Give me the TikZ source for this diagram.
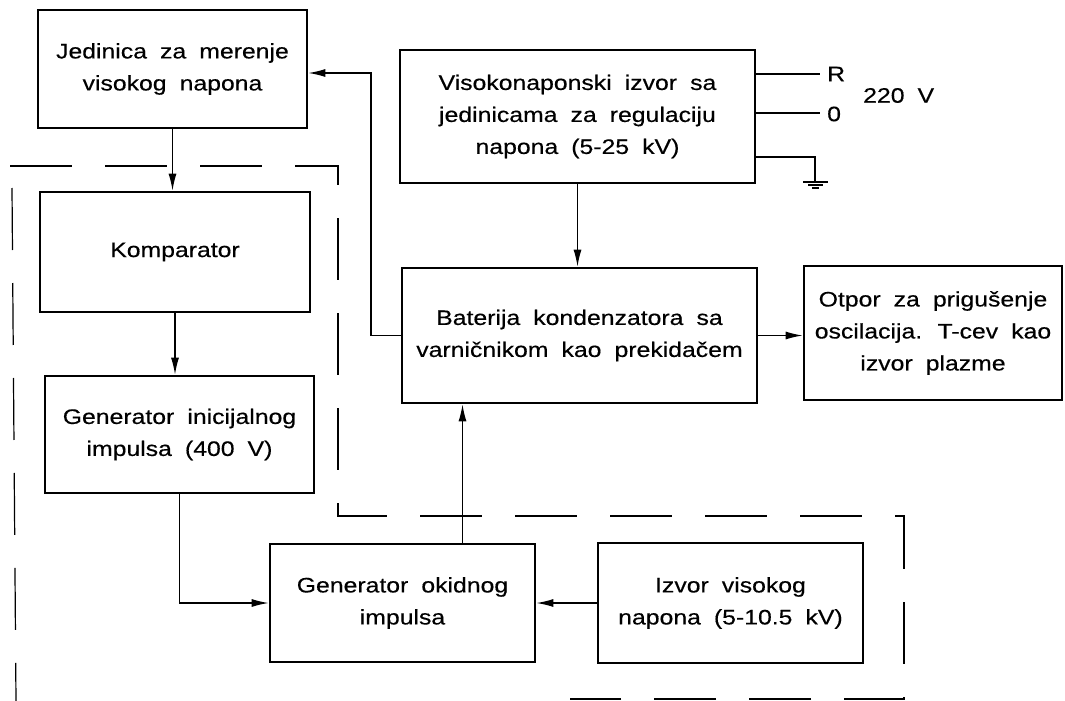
\documentclass[tikz,border=0pt]{standalone}
\usepackage{fontspec}
\setmainfont[FakeStretch=1.18,WordSpace=1.9,FakeBold=0.4]{Liberation Sans}
\usetikzlibrary{arrows.meta}

\begin{document}
\begin{tikzpicture}[x=1pt,y=-1pt,
    blok/.style={draw, line width=2.6pt, align=center, inner sep=0pt, font=\fontsize{21}{32}\selectfont},
    veza/.style={line width=1.4pt, -{Latex[length=17pt,width=8pt]}},
    linija/.style={line width=1.4pt},
    okvir/.style={line width=1.2pt, dash pattern=on 62pt off 33pt},
    natpis/.style={anchor=west, inner sep=0pt, font=\fontsize{21}{32}\selectfont}]
    \useasboundingbox (0,0) rectangle (1065,701);
    \def\sw{355};
    \def\lw{269};
    % blokovi %
    \node[blok, minimum width=\lw pt, minimum height=118pt] (merenje) at (172.5,69) {Jedinica za merenje\\visokog napona};
    \node[blok, minimum width=\sw pt, minimum height=133pt] (visoki) at (577.5,116.5) {Visokonaponski izvor sa\\jedinicama za regulaciju\\napona (5-25 kV)};
    \node[blok, minimum width=270pt, minimum height=120pt] (komp) at (175,252) {Komparator};
    \node[blok, minimum width=\lw pt, minimum height=117pt] (inicijal) at (179.5,434.5) {Generator inicijalnog\\impulsa (400 V)};
    \node[blok, minimum width=\sw pt, minimum height=135pt] (baterija) at (579.5,335.5) {Baterija kondenzatora sa\\varničnikom kao prekidačem};
    \node[blok, minimum width=258pt, minimum height=134pt] (otpor) at (933,333) {Otpor za prigušenje\\oscilacija. T-cev kao\\izvor plazme};
    \node[blok, minimum width=265pt, minimum height=118pt] (okidni) at (402.5,603) {Generator okidnog\\impulsa};
    \node[blok, minimum width=265pt, minimum height=120pt] (izvor) at (730.5,603) {Izvor visokog\\napona (5-10.5 kV)};

    % veze %
    \draw[veza] (merenje.south) -- (merenje.south |- komp.north);
    \draw[veza] (komp.south) -- (komp.south |- inicijal.north);
    \draw[veza] (inicijal.south) |- (okidni.west);
    \draw[veza] (izvor.west) -- (okidni.east);
    \draw[veza] ([xshift=60pt]okidni.north) -- ([xshift=60pt]okidni.north |- baterija.south);
    \draw[veza] (visoki.south) -- (visoki.south |- baterija.north);
    \draw[veza] (baterija.east) -- (baterija.east -| otpor.west);
    \coordinate (povrat) at (371,73);
    \draw[veza] (baterija.west) -| (povrat) -- (povrat -| merenje.east);

    % mreza 220 V %
    \coordinate (R) at (820,74);
    \coordinate (N) at (820,113);
    \coordinate (Z) at (815,157);
    \draw[linija] (R -| visoki.east) -- (R);
    \draw[linija] (N -| visoki.east) -- (N);
    \draw[linija] (Z -| visoki.east) -- (Z) -- ++(0,25);
    \draw[linija] (803,182) -- (828,182);
    \draw[linija] (808,185) -- (823,185);
    \draw[linija] (812,188) -- (819,188);
    \node[natpis] (fazaR) at (827,74) {R};
    \node[natpis] (nula) at (827,114) {0};
    \node[natpis] (napon) at (863,95.5) {220 V};

    % isprekidani okvir %
    \draw[okvir] (10,166) -- (338,166) -- (338,516) -- (904,516) -- (904,699) -- (570,699);
    \draw[okvir] (12,188) -- (16,701);
\end{tikzpicture}
\end{document}
